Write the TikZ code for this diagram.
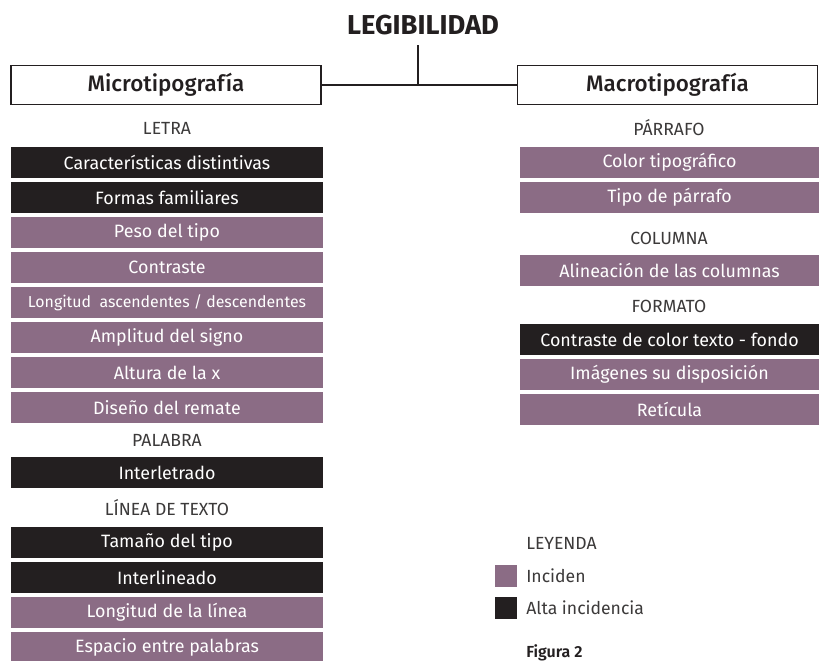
\documentclass[tikz,border=0pt]{standalone}
\usepackage{fontspec}
\setmainfont{Fira Sans}
\IfFontExistsTF{Fira Sans Medium}{\newfontfamily\hfont{Fira Sans Medium}}{\newfontfamily\hfont{Fira Sans}}
\IfFontExistsTF{Fira Sans SemiBold}{\newfontfamily\sbfont{Fira Sans SemiBold}}{\newfontfamily\sbfont[FakeBold=1]{Fira Sans}}
\definecolor{purp}{RGB}{139,108,133}
\definecolor{blk}{RGB}{35,31,32}
\definecolor{lbl}{RGB}{60,58,58}
\tikzset{
  px/.style={x=0.75pt,y=-0.75pt},
  barL/.style={minimum width=234pt,minimum height=23.25pt,inner sep=0pt,text=white,font=\fontsize{13.4}{15}\selectfont},
  barR/.style={minimum width=224.25pt,minimum height=23.25pt,inner sep=0pt,text=white,font=\fontsize{13.4}{15}\selectfont},
  pbar/.style={fill=purp},
  kbar/.style={fill=blk},
  cat/.style={text=lbl,font=\fontsize{13.2}{15}\selectfont,inner sep=0pt},
  headbox/.style={draw=blk,line width=0.95pt,minimum height=29.5pt,inner sep=0pt,font=\hfont\fontsize{16.8}{19}\selectfont,text=blk},
  conn/.style={draw=blk,line width=0.95pt},
  sq/.style={minimum width=16.5pt,minimum height=16.5pt,inner sep=0pt},
  leg/.style={anchor=west,text=lbl,font=\fontsize{13.2}{15}\selectfont,inner sep=0pt}
}
\begin{document}
\begin{tikzpicture}[px]
\useasboundingbox (0,0) rectangle (819,661);
\fill[white] (0,0) rectangle (819,661);
% title
\node[font=\fontsize{20.5}{23}\bfseries,text=blk,inner sep=0pt] (title) at (423,25) {LEGIBILIDAD};
\node[headbox,minimum width=232.5pt] (micro) at (166,85) {Microtipografía};
\node[headbox,minimum width=225pt] (macro) at (667.5,85) {Macrotipografía};
\coordinate (top) at (418,45);
\coordinate (j) at (418,85);
\draw[conn] (micro.east) -- (macro.west);
\draw[conn] (top) -- (j);
% left column
\node[cat] (letra) at (167,128) {LETRA};
\node[barL,kbar] (l1) at (167,162.5) {Características distintivas};
\node[barL,kbar] (l2) at (167,197.5) {Formas familiares};
\node[barL,pbar] (l3) at (167,232.5) {Peso del tipo};
\node[barL,pbar] (l4) at (167,267.5) {Contraste};
\node[barL,pbar,font=\fontsize{11.9}{14}\selectfont] (l5) at (167,302.5) {Longitud \ ascendentes / descendentes};
\node[barL,pbar] (l6) at (167,337.5) {Amplitud del signo};
\node[barL,pbar] (l7) at (167,372.5) {Altura de la x};
\node[barL,pbar] (l8) at (167,407.5) {Diseño del remate};
\node[cat] (palabra) at (167,440) {PALABRA};
\node[barL,kbar] (l9) at (167,472.5) {Interletrado};
\node[cat] (linea) at (167,507.5) {LÍNEA DE TEXTO};
\node[barL,kbar] (l10) at (167,542.5) {Tamaño del tipo};
\node[barL,kbar] (l11) at (167,577.5) {Interlineado};
\node[barL,pbar] (l12) at (167,612.5) {Longitud de la línea};
\node[barL,pbar] (l13) at (167,647.5) {Espacio entre palabras};
% right column
\node[cat] (parrafo) at (669,128) {PÁRRAFO};
\node[barR,pbar] (r1) at (669.5,162.5) {Color tipográfico};
\node[barR,pbar] (r2) at (669.5,197.5) {Tipo de párrafo};
\node[cat] (columna) at (669,238) {COLUMNA};
\node[barR,pbar] (r3) at (669.5,270.5) {Alineación de las columnas};
\node[cat] (formato) at (669,306) {FORMATO};
\node[barR,kbar] (r4) at (669.5,339.5) {Contraste de color texto - fondo};
\node[barR,pbar] (r5) at (669.5,374.5) {Imágenes su disposición};
\node[barR,pbar] (r6) at (669.5,409.5) {Retícula};
% legend
\node[leg] (leyenda) at (526,543) {LEYENDA};
\node[sq,fill=purp] (sqp) at (506,576) {};
\node[leg] (inciden) at (526,576) {Inciden};
\node[sq,fill=blk] (sqk) at (506,608) {};
\node[leg] (alta) at (526,608) {Alta incidencia};
\node[leg,text=blk,font=\sbfont\fontsize{12}{14}\selectfont] (fig) at (526,653) {Figura 2};
\end{tikzpicture}
\end{document}
